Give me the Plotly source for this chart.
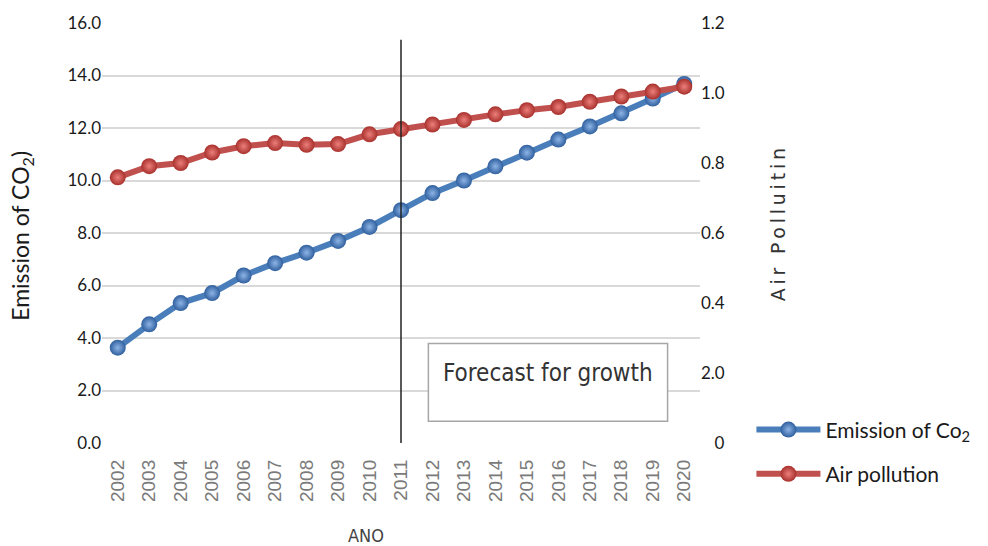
import plotly.graph_objects as go

# Years on the category axis
years = [str(y) for y in range(2002, 2021)]

# CO2 emission (left axis, 0-16)
co2_emission = [3.63, 4.52, 5.33, 5.71, 6.38, 6.85, 7.25, 7.70, 8.23, 8.87,
                9.52, 10.00, 10.54, 11.06, 11.56, 12.06, 12.56, 13.12, 13.68]

# Air pollution index (right axis, 0-1.2)
air_pollution = [0.759, 0.791, 0.800, 0.830, 0.848, 0.857, 0.852, 0.854, 0.882, 0.897,
                 0.910, 0.923, 0.939, 0.951, 0.960, 0.975, 0.990, 1.004, 1.018]

# Left axis ticks
left_ticks = [0, 2, 4, 6, 8, 10, 12, 14, 16]
left_ticktext = ["0.0", "2.0", "4.0", "6.0", "8.0", "10.0", "12.0", "14.0", "16.0"]

# Right axis ticks (labels as printed on the chart)
right_ticks = [0, 0.2, 0.4, 0.6, 0.8, 1.0, 1.2]
right_ticktext = ["\u2008\u20070", "2.0", "0.4", "0.6", "0.8", "1.0", "1.2"]

forecast_start = years.index("2011")

TICK_FONT = dict(family="Lato, 'Open Sans', sans-serif", size=17, color="#1a1a1a")

fig = go.Figure()

fig.add_trace(go.Scatter(
    x=years, y=co2_emission, name="Emission of Co<sub>2</sub>",
    mode="lines+markers",
    line=dict(color="#4a7ebb", width=6),
    marker=dict(size=16, color="#2f5f9e",
                gradient=dict(type="radial", color="#8db4e6"),
                line=dict(width=0)),
    legendgroup="a",
))

fig.add_trace(go.Scatter(
    x=years, y=air_pollution, name="Air pollution", yaxis="y2",
    mode="lines+markers",
    line=dict(color="#c0504d", width=6),
    marker=dict(size=16, color="#a8302c",
                gradient=dict(type="radial", color="#ec7f7b"),
                line=dict(width=0)),
    legendgroup="b",
))

# Vertical marker where the forecast begins
fig.add_shape(type="line", xref="x", yref="y",
              x0=forecast_start, x1=forecast_start, y0=0, y1=15.36,
              line=dict(color="#222222", width=1.5), layer="above")

# Forecast box
fig.add_shape(type="rect", xref="x", yref="y",
              x0=9.87, x1=17.47, y0=0.83, y1=3.79,
              line=dict(color="#a6a6a6", width=1.5),
              fillcolor="white", layer="above")

fig.add_annotation(
    xref="x", yref="y", x=13.67, y=2.68,
    text="Forecast for growth", showarrow=False,
    font=dict(family="'Liberation Sans Narrow', 'DejaVu Sans Condensed', 'Open Sans', sans-serif",
              size=24, color="#333333"),
)

# Axis titles
fig.add_annotation(
    xref="paper", yref="paper", x=-0.134, y=0.493, xanchor="center", yanchor="middle",
    text="Emission of CO<sub>2</sub>)", textangle=-90, showarrow=False,
    font=dict(family="Lato, 'Open Sans', sans-serif", size=23, color="#1a1a1a"),
)
air_title = "\u2009".join("Air Polluitin")
fig.add_annotation(
    xref="paper", yref="paper", x=1.13, y=0.52, xanchor="center", yanchor="middle",
    text=air_title, textangle=-90, showarrow=False,
    font=dict(family="'DejaVu Sans', sans-serif", size=19, color="#333333"),
)
fig.add_annotation(
    xref="paper", yref="paper", x=0.441, y=-0.22, xanchor="center", yanchor="middle",
    text="ANO", showarrow=False,
    font=dict(family="'Liberation Sans Narrow', 'DejaVu Sans Condensed', sans-serif",
              size=18, color="#444444"),
)

fig.update_layout(
    width=988, height=546,
    margin=dict(l=102, r=288, t=21, b=103),
    paper_bgcolor="white", plot_bgcolor="white",
    showlegend=True,
    legend=dict(
        x=1.086, y=0.08, xanchor="left", yanchor="top",
        font=dict(family="Lato, 'Open Sans', sans-serif", size=21, color="#1a1a1a"),
        traceorder="grouped", tracegroupgap=14, itemwidth=64,
        bgcolor="rgba(0,0,0,0)",
    ),
    xaxis=dict(
        type="category", range=[-0.5, 18.5],
        tickangle=-90, showgrid=False, showline=False, ticks="",
        tickfont=dict(family="'Liberation Sans', Arial, sans-serif", size=19, color="#7a7a7a"),
        ticklabelstandoff=12,
    ),
    yaxis=dict(
        range=[0, 16], tickvals=left_ticks, ticktext=left_ticktext,
        showgrid=True, gridcolor="#d9d9d9", gridwidth=1.5,
        zeroline=False, showline=False, ticks="",
        tickfont=TICK_FONT,
    ),
    yaxis2=dict(
        overlaying="y", side="right",
        range=[0, 1.2], tickvals=right_ticks, ticktext=right_ticktext,
        showgrid=False, zeroline=False, showline=False, ticks="",
        tickfont=TICK_FONT,
    ),
)

fig.write_html("out.html")
